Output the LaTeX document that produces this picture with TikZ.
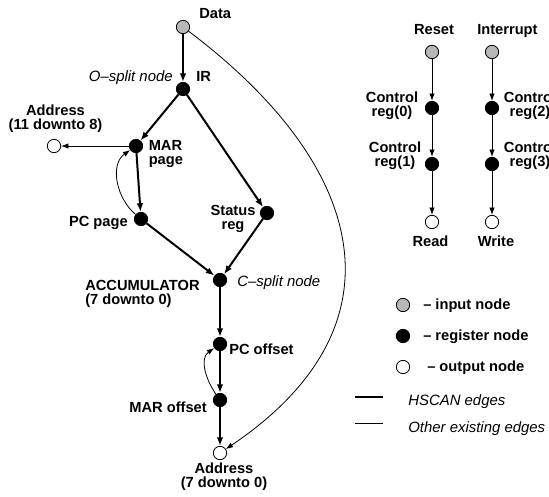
\documentclass[tikz,border=0pt]{standalone}
\usepackage{fontspec}
\setmainfont{Liberation Sans}
\usetikzlibrary{arrows.meta}

\begin{document}
\begin{tikzpicture}[x=0.75pt,y=0.75pt,
    vtx/.style={circle,draw,line width=0.6pt,minimum size=10pt,inner sep=0pt},
    inp/.style={vtx,fill=black!28},
    reg/.style={vtx,fill=black},
    outp/.style={vtx,fill=white},
    lbl/.style={inner sep=0pt,font=\fontsize{11}{10.5}\selectfont\bfseries},
    note/.style={inner sep=0pt,font=\fontsize{11.2}{10.5}\selectfont\itshape},
    hscan/.style={line width=1.5pt,-{Latex[length=6.5pt,width=5pt]}},
    other/.style={line width=0.6pt,-{Latex[length=5.5pt,width=4pt]}}]
  \useasboundingbox (0,0) rectangle (549,496);

  % main graph
  \node[inp]  (data)  at (183,469) {};
  \node[reg]  (ir)    at (183,407) {};
  \node[reg]  (marp)  at (136,350) {};
  \node[outp] (addrh) at (54,350)  {};
  \node[reg]  (pcp)   at (141,277) {};
  \node[reg]  (stat)  at (267,283) {};
  \node[reg]  (acc)   at (220,216) {};
  \node[reg]  (pco)   at (220,152) {};
  \node[reg]  (maro)  at (220,96)  {};
  \node[outp] (addrl) at (220,43)  {};

  \node[lbl,anchor=base west] (dataL) at (199,477.5) {Data};
  \node[note,anchor=base east] (osplit) at (173,414) {O--split node};
  \node[lbl,anchor=base west] (irL) at (196,414) {IR};
  \node[lbl,align=center] (addrhL) at (55.5,377.5) {Address\\(11 downto 8)};
  \node[lbl,align=left,anchor=west] (marpL) at (148.5,342) {MAR\\page};
  \node[lbl,anchor=base east] (pcpL) at (128,269) {PC page};
  \node[lbl,align=center] (statL) at (233,277.5) {Status\\reg};
  \node[lbl,align=left,anchor=west] (accL) at (85,202) {ACCUMULATOR\\(7 downto 0)};
  \node[note,anchor=base west] (csplit) at (237,209) {C--split node};
  \node[lbl,anchor=base west] (pcoL) at (229,141) {PC offset};
  \node[lbl,anchor=base east] (maroL) at (207,84) {MAR offset};
  \node[lbl,align=center] (addrlL) at (224,19.5) {Address\\(7 downto 0)};

  \foreach \a/\b in {data/ir,ir/marp,ir/stat,marp/pcp,pcp/acc,stat/acc,acc/pco,pco/maro,maro/addrl}
    \draw[hscan] (\a) -- (\b);
  \draw[other] (marp) -- (addrh);
  \draw[other] (pcp) to[out=140,in=215] (marp);
  \draw[other] (maro) to[out=125,in=215] (pco);
  \draw[other] (data) to[out=-37,in=34,looseness=1.35] (addrl);

  % control chains
  \node[inp]  (rst)  at (432,444) {};
  \node[reg]  (cr0)  at (432,388) {};
  \node[reg]  (cr1)  at (432,332) {};
  \node[outp] (rd)   at (432,274) {};
  \node[inp]  (intr) at (492,444) {};
  \node[reg]  (cr2)  at (492,388) {};
  \node[reg]  (cr3)  at (492,332) {};
  \node[outp] (wr)   at (492,274) {};

  \node[lbl,anchor=base] (rstL) at (434,461) {Reset};
  \node[lbl,anchor=base west] (intrL) at (477,461) {Interrupt};
  \node[lbl,align=center] (cr0L) at (392,390.5) {Control\\reg(0)};
  \node[lbl,align=center] (cr1L) at (395,340) {Control\\reg(1)};
  \node[lbl,align=center] (cr2L) at (530,390.5) {Control\\reg(2)};
  \node[lbl,align=center] (cr3L) at (530,340) {Control\\reg(3)};
  \node[lbl,anchor=base] (rdL) at (430.5,249) {Read};
  \node[lbl,anchor=base] (wrL) at (496,249) {Write};

  \foreach \a/\b in {rst/cr0,cr0/cr1,cr1/rd,intr/cr2,cr2/cr3,cr3/wr}
    \draw[other] (\a) -- (\b);

  % legend
  \node[inp]  (keyin)  at (403,191) {};
  \node[reg]  (keyreg) at (403,160) {};
  \node[outp] (keyout) at (403,129) {};
  \node[lbl,anchor=base west] (keyinL)  at (423,186) {-- input node};
  \node[lbl,anchor=base west] (keyregL) at (423,155) {-- register node};
  \node[lbl,anchor=base west] (keyoutL) at (427,124) {-- output node};
  \coordinate (hs1) at (355,99);  \coordinate (hs2) at (383,99);
  \coordinate (ot1) at (355,73);  \coordinate (ot2) at (383,73);
  \draw[line width=1.5pt] (hs1) -- (hs2);
  \draw[line width=0.6pt] (ot1) -- (ot2);
  \node[note,anchor=base west] (hsL) at (408,91) {HSCAN edges};
  \node[note,anchor=base west] (otL) at (408,64) {Other existing edges};
\end{tikzpicture}
\end{document}
